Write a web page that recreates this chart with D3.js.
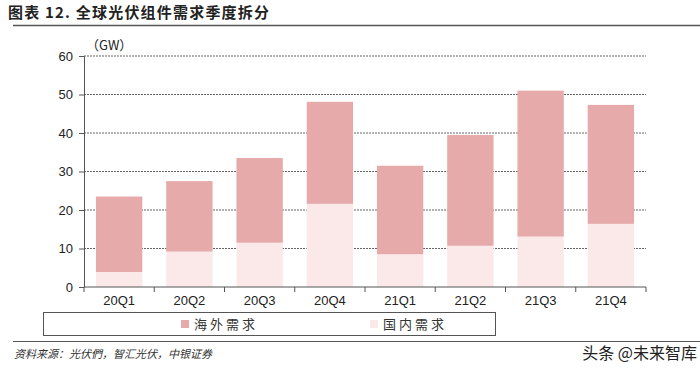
<!DOCTYPE html>
<html>
<head>
<meta charset="utf-8">
<script src="https://cdn.jsdelivr.net/npm/d3@7"></script>
<style>
  body { margin: 0; background: #fff; }
  text { font-family: "Liberation Sans", Arial, sans-serif; }
  .cjk { font-family: "Noto Sans CJK SC", sans-serif; }
</style>
</head>
<body>
<div id="chart"></div>
<script>
// data (GW)
var quarters = ["20Q1", "20Q2", "20Q3", "20Q4", "21Q1", "21Q2", "21Q3", "21Q4"];
var domestic = [3.9, 9.2, 11.5, 21.6, 8.5, 10.7, 13.1, 16.4];
var overseas = [19.6, 18.3, 22.0, 26.5, 23.0, 28.8, 37.9, 30.9];
var yTicks = [0, 10, 20, 30, 40, 50, 60];
var seriesNames = ["海外需求", "国内需求"];
var colors = ["#e7aaab", "#fbe9e9"];

var svgWidth = 700, svgHeight = 373;
var margin = { top: 56, right: 54, bottom: 86, left: 84 };
var width = svgWidth - margin.left - margin.right;
var height = svgHeight - margin.top - margin.bottom;

var svg = d3.select("#chart").append("svg")
  .attr("width", svgWidth)
  .attr("height", svgHeight);

// title + rules
svg.append("text")
  .attr("class", "cjk")
  .attr("x", 8).attr("y", 18)
  .attr("font-size", 15).attr("font-weight", "bold")
  .attr("letter-spacing", 1.2)
  .attr("fill", "#222")
  .text("图表 12. 全球光伏组件需求季度拆分");

svg.append("line")
  .attr("x1", 13).attr("x2", 700).attr("y1", 25.5).attr("y2", 25.5)
  .attr("stroke", "#555").attr("stroke-width", 1.5);

var chartGroup = svg.append("g")
  .attr("transform", `translate(${margin.left}, ${margin.top})`);

var xScale = d3.scaleBand()
  .domain(quarters)
  .range([0, width])
  .paddingInner(0.34)
  .paddingOuter(0.17);

var yScale = d3.scaleLinear()
  .domain([0, 60])
  .range([height, 0]);

// gridlines
chartGroup.selectAll(".grid")
  .data(yTicks.slice(1))
  .enter()
  .append("line")
  .attr("x1", 0).attr("x2", width)
  .attr("y1", d => yScale(d)).attr("y2", d => yScale(d))
  .attr("stroke", "#666")
  .attr("stroke-dasharray", "2,1");

// stacked bars
var stackData = quarters.map((q, i) => ({ q: q, overseas: overseas[i], domestic: domestic[i] }));
var stack = d3.stack().keys(["domestic", "overseas"]);
var layers = stack(stackData);

chartGroup.selectAll(".layer")
  .data(layers)
  .enter()
  .append("g")
  .attr("fill", (d, i) => i === 0 ? colors[1] : colors[0])
  .selectAll("rect")
  .data(d => d)
  .enter()
  .append("rect")
  .attr("x", d => xScale(d.data.q))
  .attr("width", xScale.bandwidth())
  .attr("y", d => yScale(d[1]))
  .attr("height", d => yScale(d[0]) - yScale(d[1]));

// axes
var leftAxis = d3.axisLeft(yScale).tickValues(yTicks).tickSize(5).tickPadding(6);
var yAxis = chartGroup.append("g").call(leftAxis);
yAxis.select(".domain").attr("stroke", "#555");
yAxis.selectAll(".tick line").attr("stroke", "#555");
yAxis.selectAll("text").attr("font-size", 13).attr("fill", "#222")
  .attr("font-family", "Liberation Sans, Arial, sans-serif");

var xAxisG = chartGroup.append("g").attr("transform", `translate(0, ${height})`);
xAxisG.append("line")
  .attr("x1", 0).attr("x2", width).attr("y1", 0).attr("y2", 0)
  .attr("stroke", "#555");
var bounds = d3.range(quarters.length + 1).map(i => i * width / quarters.length);
xAxisG.selectAll(".xtick")
  .data(bounds)
  .enter()
  .append("line")
  .attr("x1", d => d).attr("x2", d => d)
  .attr("y1", 0).attr("y2", 5)
  .attr("stroke", "#555");
xAxisG.selectAll(".xlabel")
  .data(quarters)
  .enter()
  .append("text")
  .attr("x", d => xScale(d) + xScale.bandwidth() / 2)
  .attr("y", 18)
  .attr("text-anchor", "middle")
  .attr("font-size", 13)
  .attr("fill", "#222")
  .text(d => d);

// unit label
chartGroup.append("text")
  .attr("x", 2).attr("y", -6)
  .attr("font-size", 13).attr("fill", "#222")
  .text("（GW）")
  .attr("class", "cjk");

// legend
svg.append("rect")
  .attr("x", 43.5).attr("y", 312.5).attr("width", 452).attr("height", 23)
  .attr("fill", "none").attr("stroke", "#555");

var legendX = [181, 370];
var legend = svg.selectAll(".legend")
  .data(seriesNames)
  .enter()
  .append("g")
  .attr("transform", (d, i) => `translate(${legendX[i]}, 324)`);
legend.append("rect")
  .attr("x", 0).attr("y", -4).attr("width", 8).attr("height", 8)
  .attr("fill", (d, i) => colors[i]);
legend.append("text")
  .attr("class", "cjk")
  .attr("x", 13).attr("y", 5)
  .attr("font-size", 13).attr("letter-spacing", 3)
  .attr("fill", "#333")
  .text(d => d);

// footer
svg.append("line")
  .attr("x1", 13).attr("x2", 700).attr("y1", 341.5).attr("y2", 341.5)
  .attr("stroke", "#555").attr("stroke-width", 1.2);

svg.append("text")
  .attr("class", "cjk")
  .attr("x", 14).attr("y", 358)
  .attr("font-size", 11).attr("font-style", "italic")
  .attr("fill", "#333")
  .text("资料来源：光伏們，智汇光伏，中银证券");

svg.append("text")
  .attr("class", "cjk")
  .attr("x", 697).attr("y", 359)
  .attr("text-anchor", "end")
  .attr("font-size", 16)
  .attr("fill", "#222")
  .text("头条 @未来智库");
</script>
</body>
</html>
